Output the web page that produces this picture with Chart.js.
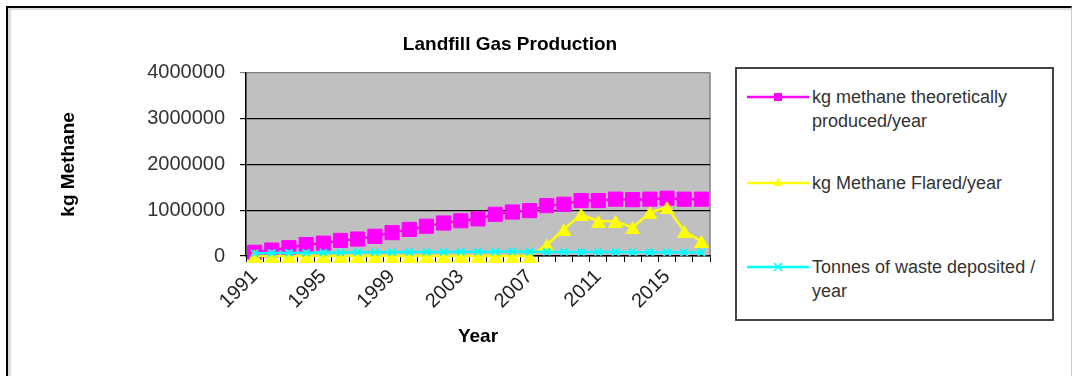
<!DOCTYPE html>
<html>
<head>
<meta charset="utf-8">
<title>Landfill Gas Production</title>
<script src="https://cdn.jsdelivr.net/npm/chart.js@4/dist/chart.umd.min.js"></script>
<style>
  html, body { margin: 0; padding: 0; background: #fff; }
  #wrap { position: relative; width: 1073px; height: 376px; overflow: hidden; }
  #gas { position: absolute; left: 0; top: 0; }
  #frame {
    position: absolute; left: 6px; top: 6px; width: 1063px; height: 400px;
    border-top: 2px solid #000; border-left: 2px solid #000; border-right: 1px solid #ccc;
    box-shadow: inset 3px 2px 0 #dcdcdc;
  }
  #legend {
    position: absolute; left: 735px; top: 67px; width: 315px; height: 250px;
    border: 2px solid #444; background: #fff;
    font: 18px "Liberation Sans", Arial, sans-serif; color: #333;
  }
  .item { position: absolute; left: 10px; height: 48px; width: 300px; }
  .item svg { position: absolute; left: 0; top: 0; }
  .item .txt { position: absolute; left: 65px; top: 0; line-height: 24px; white-space: nowrap; }
</style>
</head>
<body>
<div id="wrap">
  <canvas id="gas" width="1073" height="376"></canvas>
  <div id="frame"></div>
  <div id="legend"></div>
</div>
<script>
const years = ['1991', '1992', '1993', '1994', '1995', '1996', '1997', '1998', '1999',
  '2000', '2001', '2002', '2003', '2004', '2005', '2006', '2007', '2008', '2009',
  '2010', '2011', '2012', '2013', '2014', '2015', '2016', '2017'];
const labelledYears = ['1991', '1995', '1999', '2003', '2007', '2011', '2015'];

const methaneProduced = [80000, 130000, 180000, 250000, 280000, 340000, 370000, 430000, 510000,
  580000, 650000, 720000, 770000, 810000, 910000, 960000, 990000, 1100000, 1130000,
  1210000, 1210000, 1240000, 1230000, 1240000, 1260000, 1240000, 1240000];
const methaneFlared = [0, 0, 0, 0, 0, 0, 0, 0, 0,
  0, 0, 0, 0, 0, 0, 0, 0, 240000, 580000,
  910000, 760000, 760000, 620000, 950000, 1060000, 540000, 320000];
const wasteDeposited = [60000, 65000, 70000, 72000, 75000, 78000, 80000, 82000, 84000,
  86000, 88000, 90000, 92000, 94000, 95000, 96000, 95000, 92000, 90000,
  88000, 86000, 85000, 84000, 82000, 80000, 78000, 76000];

const yTicks = [0, 1000000, 2000000, 3000000, 4000000];

const seriesLines = [
  ['kg methane theoretically', 'produced/year'],
  ['kg Methane Flared/year'],
  ['Tonnes of waste deposited /', 'year']
];
const seriesColors = ['#ff00ff', '#ffff00', '#00ffff'];
const seriesMarkers = ['rect', 'triangle', 'crossRot'];

const FONT = '"Liberation Sans", Arial, sans-serif';
Chart.defaults.font.family = FONT;

// centred triangle marker (the built-in one sits above its point)
function triangleMarker(color, w, h) {
  const c = document.createElement('canvas');
  c.width = w;
  c.height = h;
  const g = c.getContext('2d');
  g.fillStyle = color;
  g.beginPath();
  g.moveTo(w / 2, 0);
  g.lineTo(w, h);
  g.lineTo(0, h);
  g.closePath();
  g.fill();
  return c;
}

// grey plot area with a darker right edge
const plotBackground = {
  id: 'plotBackground',
  beforeDraw(chart) {
    const { ctx, chartArea: a } = chart;
    ctx.save();
    ctx.fillStyle = '#c0c0c0';
    ctx.fillRect(a.left, a.top, a.right - a.left, a.bottom - a.top);
    ctx.strokeStyle = '#808080';
    ctx.lineWidth = 1.5;
    ctx.beginPath();
    ctx.moveTo(a.right, a.top);
    ctx.lineTo(a.right, a.bottom);
    ctx.stroke();
    ctx.restore();
  }
};

function series(i, data, radius, order) {
  return {
    label: seriesLines[i].join(' '),
    data: data,
    borderColor: seriesColors[i],
    backgroundColor: seriesColors[i],
    pointBackgroundColor: seriesColors[i],
    pointBorderColor: seriesColors[i],
    pointStyle: seriesMarkers[i] === 'triangle' ? triangleMarker(seriesColors[i], 15, 13) : seriesMarkers[i],
    pointRadius: radius,
    pointBorderWidth: i === 2 ? 2 : 1,
    borderWidth: 2.5,
    tension: 0,
    clip: false,
    order: order
  };
}

const chart = new Chart(document.getElementById('gas'), {
  type: 'line',
  data: {
    labels: years,
    datasets: [
      series(0, methaneProduced, 10, 3),
      series(1, methaneFlared, 8, 2),
      series(2, wasteDeposited, 5, 1)
    ]
  },
  options: {
    responsive: false,
    animation: false,
    devicePixelRatio: 1,
    layout: { padding: { left: 8, right: 61, top: 0, bottom: 0 } },
    plugins: {
      legend: { display: false },
      tooltip: { enabled: false },
      title: {
        display: true,
        text: 'Landfill Gas Production',
        color: '#000',
        font: { size: 19, weight: 'bold' },
        padding: { top: 33, bottom: 17 }
      }
    },
    scales: {
      x: {
        offset: true,
        grid: { offset: true, drawOnChartArea: false, drawTicks: true, tickLength: 6, color: '#000' },
        border: { color: '#000', width: 1.5 },
        ticks: {
          autoSkip: false, minRotation: 45, maxRotation: 45, padding: 3,
          color: '#222', font: { size: 20 },
          callback(v) {
            const y = this.getLabelForValue(v);
            return labelledYears.includes(y) ? y : '';
          }
        },
        title: {
          display: true, text: 'Year', color: '#000',
          font: { size: 19, weight: 'bold' }, padding: { top: 0, bottom: 28 }
        },
        afterFit(s) { s.height = 120; }
      },
      y: {
        min: 0,
        max: 4000000,
        afterBuildTicks(s) { s.ticks = yTicks.map(v => ({ value: v })); },
        grid: {
          color: c => (c.tick && c.tick.value === 4000000 ? '#808080' : '#000'),
          lineWidth: 1.2,
          tickLength: 6
        },
        border: { color: '#000', width: 1.5 },
        ticks: { color: '#333', font: { size: 20 }, padding: 15, callback: v => String(v) },
        title: {
          display: true, text: 'kg Methane', color: '#000',
          font: { size: 19, weight: 'bold' }, padding: { top: 49, bottom: 0 }
        },
        afterFit(s) { s.width = 238; }
      },
      // empty band on the right that leaves room for the legend box
      spacer: {
        position: 'right',
        display: true,
        ticks: { display: false },
        grid: { display: false },
        border: { display: false },
        afterFit(s) { s.width = 302; }
      }
    }
  },
  plugins: [plotBackground]
});

// legend box drawn from the same series settings
function markerSvg(i) {
  const c = seriesColors[i];
  const cx = 31, cy = 12;
  let mark = '';
  if (seriesMarkers[i] === 'rect') {
    mark = `<rect x="${cx - 4}" y="${cy - 4}" width="8" height="8" fill="${c}"/>`;
  } else if (seriesMarkers[i] === 'triangle') {
    mark = `<polygon points="${cx},${cy - 5} ${cx + 4.5},${cy + 3} ${cx - 4.5},${cy + 3}" fill="${c}"/>`;
  } else {
    mark = `<path d="M${cx - 4} ${cy - 4}L${cx + 4} ${cy + 4}M${cx + 4} ${cy - 4}L${cx - 4} ${cy + 4}" stroke="${c}" stroke-width="1.5"/>`;
  }
  return `<svg width="62" height="24"><line x1="0" y1="${cy}" x2="62" y2="${cy}" stroke="${c}" stroke-width="2.5"/>${mark}</svg>`;
}

const itemTops = [16, 102, 186];
const legend = document.getElementById('legend');
seriesLines.forEach((lines, i) => {
  const item = document.createElement('div');
  item.className = 'item';
  item.style.top = itemTops[i] + 'px';
  item.innerHTML = markerSvg(i) + '<div class="txt">' + lines.join('<br>') + '</div>';
  legend.appendChild(item);
});
</script>
</body>
</html>
